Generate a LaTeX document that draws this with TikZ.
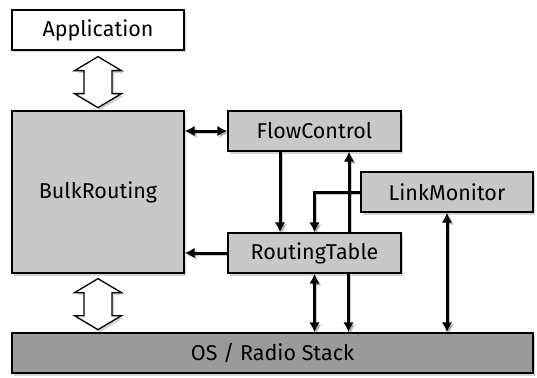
\documentclass[tikz,border=0pt]{standalone}
\usepackage{fontspec}
\setmainfont{Fira Sans}
\usetikzlibrary{arrows.meta,shadows,calc}
\definecolor{lightbox}{RGB}{200,200,200}
\definecolor{darkbox}{RGB}{154,154,154}
\begin{document}
\begin{tikzpicture}[x=1pt,y=-1pt,
  box/.style={draw=black, line width=1.3pt, fill=lightbox, inner sep=0pt,
    font=\fontsize{21.5}{24}\selectfont,
    drop shadow={opacity=0.35, shadow xshift=2pt, shadow yshift=-2.5pt}},
  shade line/.style={preaction={draw=black, opacity=0.2, transform canvas={xshift=2pt,yshift=-2pt}}},
  conn/.style={line width=3pt, draw=black, shade line, -{Latex[length=10pt,width=10.5pt]}},
  bconn/.style={line width=3pt, draw=black, shade line, {Latex[length=10pt,width=10.5pt]}-{Latex[length=10pt,width=10.5pt]}},
  dblarrow/.pic={
    \draw[line width=1.3pt, fill=white, line join=miter,
      drop shadow={opacity=0.35, shadow xshift=2pt, shadow yshift=-2.5pt}]
      (0,0) -- (23.5,14) -- (14,14) -- (14,37) -- (23.5,37) -- (0,51)
      -- (-23.5,37) -- (-14,37) -- (-14,14) -- (-23.5,14) -- cycle;
  }]
\useasboundingbox (0,0) rectangle (537,377);

\node[box, fill=white, minimum width=172pt, minimum height=40pt] (app) at (98,30) {Application};
\node[box, minimum width=172pt, minimum height=162pt] (bulk) at (98,192) {BulkRouting};
\node[box, minimum width=173pt, minimum height=40pt] (flow) at (314.5,131) {FlowControl};
\node[box, minimum width=172pt, minimum height=40pt] (link) at (447,192) {LinkMonitor};
\node[box, minimum width=173pt, minimum height=40pt] (rt) at (314.5,253) {RoutingTable};
\node[box, fill=darkbox, minimum width=521pt, minimum height=40pt] (os) at (272.5,353) {OS / Radio Stack};

\pic at ($(app.south)+(0,6)$) {dblarrow};
\pic at ($(bulk.south)+(0,5)$) {dblarrow};

\draw[bconn] (flow.west -| bulk.east) -- (flow.west);
\draw[conn] ([xshift=-34.5pt]flow.south) -- ([xshift=-34.5pt]rt.north);
\draw[conn] ([xshift=34.5pt]rt.north) -- ([xshift=34.5pt]flow.south);
\draw[conn] (link.west) -| (rt.north);
\draw[conn] (rt.west) -- (rt.west -| bulk.east);
\draw[bconn] (rt.south) -- (rt.south |- os.north);
\draw[conn] ([xshift=34pt]rt.south) -- ([xshift=34pt]rt.south |- os.north);
\draw[bconn] (link.south) -- (link.south |- os.north);
\end{tikzpicture}
\end{document}
